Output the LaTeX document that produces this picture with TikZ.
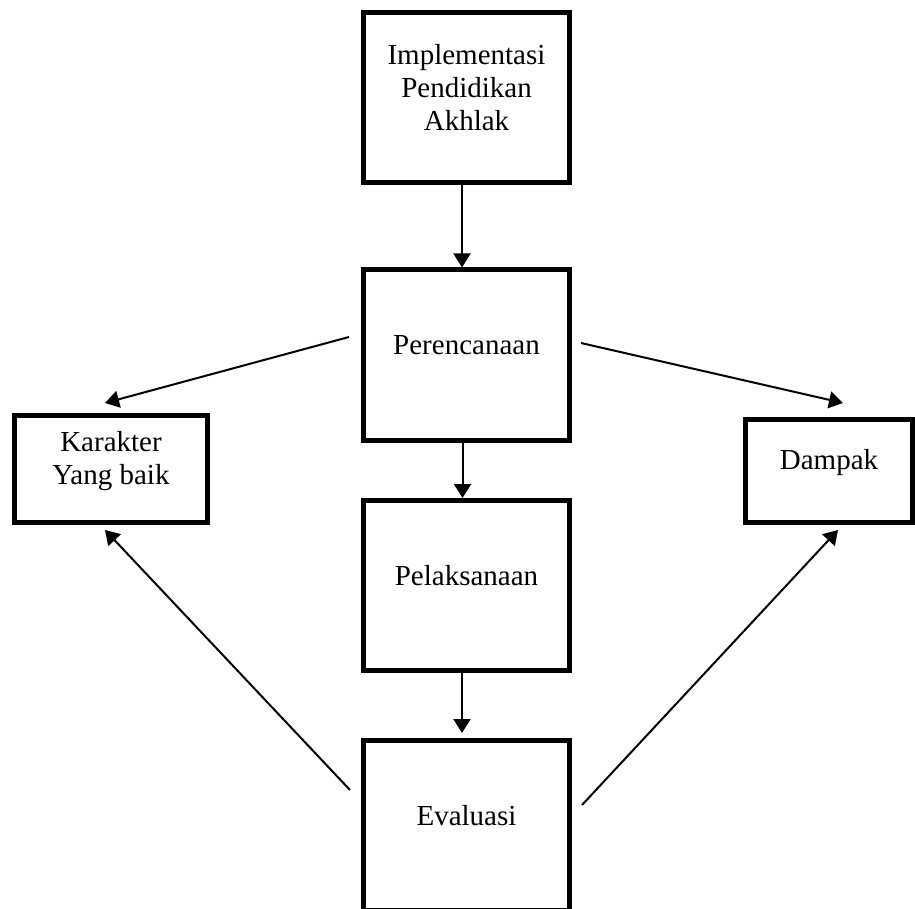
\documentclass[tikz,border=0pt]{standalone}
\usepackage{fontspec}
\setmainfont{Liberation Serif}
\usetikzlibrary{arrows.meta}
\begin{document}
\begin{tikzpicture}[x=1pt,y=-1pt,
  box/.style={draw,line width=5pt,inner sep=0pt},
  mainbox/.style={box,minimum width=206pt,minimum height=170pt},
  lbl/.style={font=\fontsize{29}{33}\selectfont,align=center,inner sep=0pt},
  arr/.style={line width=2pt,-{Triangle[width=17pt,length=14pt]}}]
\useasboundingbox (0,0) rectangle (915,909);
% boxes
\node[mainbox] (impl) at (466.5,97.5) {};
\node[mainbox] (per) at (466.5,355) {};
\node[mainbox] (pel) at (466.5,585.5) {};
\node[mainbox] (eva) at (466.5,825.5) {};
\node[box,minimum width=193pt,minimum height=106.5pt] (kar) at (111,468.75) {};
\node[box,minimum width=167pt,minimum height=102.5pt] (dam) at (829,470.75) {};
% texts
\node[lbl] (implT) at ([yshift=10pt]impl.center) {Implementasi\\Pendidikan\\Akhlak};
\node[lbl] (perT) at ([yshift=10pt]per.center) {Perencanaan};
\node[lbl] (pelT) at ([yshift=10pt]pel.center) {Pelaksanaan};
\node[lbl] (evaT) at ([yshift=10pt]eva.center) {Evaluasi};
\node[lbl] (karT) at ([yshift=8pt]kar.center) {Karakter\\Yang baik};
\node[lbl] (damT) at ([yshift=8pt]dam.center) {Dampak};
% free arrow ends
\coordinate (pL) at (349,337);
\coordinate (pR) at (581,343);
\coordinate (kT) at (105,403);
\coordinate (dT) at (843,403);
\coordinate (eL) at (350,790);
\coordinate (eR) at (582,805);
\coordinate (kB) at (105,530);
\coordinate (dB) at (838,530);
% arrows
\draw[arr] ([xshift=-4.5pt]impl.south) -- ([xshift=-4.5pt]per.north);
\draw[arr] ([xshift=-4pt]per.south) -- ([xshift=-4pt]pel.north);
\draw[arr,shorten >=5pt] ([xshift=-4.5pt]pel.south) -- ([xshift=-4.5pt]eva.north);
\draw[arr] (pL) -- (kT);
\draw[arr] (pR) -- (dT);
\draw[arr] (eL) -- (kB);
\draw[arr] (eR) -- (dB);
\end{tikzpicture}
\end{document}
